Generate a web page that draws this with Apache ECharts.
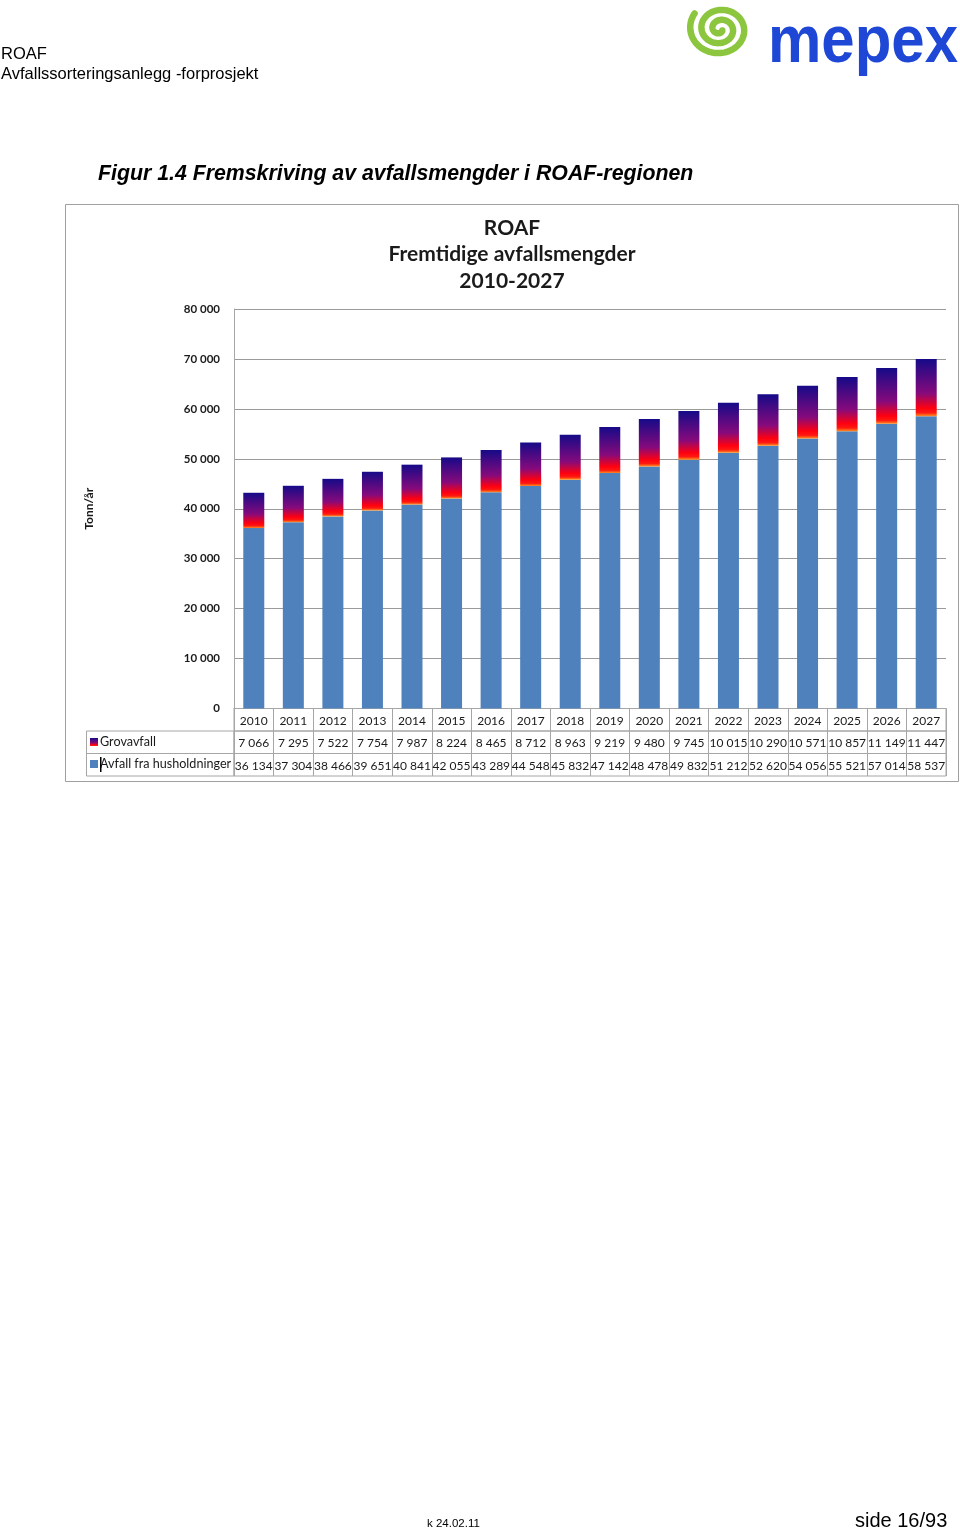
<!DOCTYPE html>
<html>
<head>
<meta charset="utf-8">
<script src="https://cdn.jsdelivr.net/npm/echarts@6/dist/echarts.min.js"></script>
<style>
  html, body { margin: 0; padding: 0; background: #fff; }
  #chart { width: 960px; height: 1530px; }
</style>
</head>
<body>
<div id="chart"></div>
<script>
// data
var years = ["2010", "2011", "2012", "2013", "2014", "2015", "2016", "2017", "2018",
  "2019", "2020", "2021", "2022", "2023", "2024", "2025", "2026", "2027"];
var grovavfall = [7066, 7295, 7522, 7754, 7987, 8224, 8465, 8712, 8963,
  9219, 9480, 9745, 10015, 10290, 10571, 10857, 11149, 11447];
var husholdning = [36134, 37304, 38466, 39651, 40841, 42055, 43289, 44548, 45832,
  47142, 48478, 49832, 51212, 52620, 54056, 55521, 57014, 58537];
var seriesNames = ["Grovavfall", "Avfall fra husholdninger"];

function fmt(n) {
  return String(n).replace(/\B(?=(\d{3})+(?!\d))/g, " ");
}

var calibri = "Lato, 'Open Sans', sans-serif";
var arial = "'Liberation Sans', Arial, sans-serif";
var lineCol = "#a6a6a6";

function grovGradient() {
  return new echarts.graphic.LinearGradient(0, 0, 0, 1, [
    { offset: 0, color: "#160a88" },
    { offset: 0.6, color: "#860a7c" },
    { offset: 0.86, color: "#ff0010" },
    { offset: 0.94, color: "#ff1a10" },
    { offset: 1, color: "#ff9020" },
  ]);
}

// spiral for the logo
function spiralPoints(cx, cy) {
  var pts = [];
  var turns = 2.5;
  for (var i = 0; i <= 300; i++) {
    var t = (i / 300) * turns * 2 * Math.PI;
    var r = 2.5 + 10 * t / (2 * Math.PI);
    pts.push([cx + 1.12 * r * Math.cos(t + 0.6), cy + r * Math.sin(t + 0.6)]);
  }
  return pts;
}

// one table row as its own grid
function tableRow(idx, top, labels) {
  return {
    grid: { left: 234, right: 14, top: top, height: 22.5, show: true, borderColor: lineCol, borderWidth: 1 },
    xAxis: {
      type: "category", gridIndex: idx, data: labels, position: "bottom",
      axisLine: { show: false }, axisTick: { show: false },
      splitLine: { show: true, interval: 0, lineStyle: { color: lineCol } },
      axisLabel: { interval: 0, margin: -16, fontFamily: calibri, fontSize: 12, color: "#1a1a1a" },
    },
    yAxis: { type: "value", gridIndex: idx, show: false },
  };
}
var rows = [
  tableRow(1, 708.5, years),
  tableRow(2, 731, grovavfall.map(fmt)),
  tableRow(3, 753.5, husholdning.map(fmt)),
];

var myChart = echarts.init(document.getElementById("chart"));
myChart.setOption({
  animation: false,
  title: {
    text: "ROAF\nFremtidige avfallsmengder\n2010-2027",
    left: 507, top: 209.5, textAlign: "center",
    textStyle: { fontFamily: calibri, fontWeight: "bold", fontSize: 21, lineHeight: 26.5, color: "#1a1a1a" },
  },
  grid: [{ left: 234, right: 14, top: 309, height: 399.5 }].concat(rows.map(function (r) { return r.grid; })),
  xAxis: [{
    type: "category", data: years, gridIndex: 0,
    axisLine: { show: true, lineStyle: { color: lineCol } },
    axisTick: { show: false }, axisLabel: { show: false },
  }].concat(rows.map(function (r) { return r.xAxis; })),
  yAxis: [{
    type: "value", min: 0, max: 80000, interval: 10000, gridIndex: 0,
    name: "Tonn/år", nameLocation: "middle", nameRotate: 90, nameGap: 139,
    nameTextStyle: { fontFamily: calibri, fontWeight: "bold", fontSize: 12, color: "#1a1a1a" },
    axisLine: { show: true, lineStyle: { color: lineCol } },
    axisTick: { show: false },
    axisLabel: { margin: 14, fontFamily: calibri, fontWeight: "bold", fontSize: 11.5, color: "#1a1a1a", formatter: fmt },
    splitLine: { lineStyle: { color: "#9a9a9a" } },
  }].concat(rows.map(function (r) { return r.yAxis; })),
  series: [
    {
      name: seriesNames[1], type: "bar", stack: "tot", data: husholdning, barWidth: 21,
      itemStyle: { color: "#4f81bd" },
    },
    {
      name: seriesNames[0], type: "bar", stack: "tot", data: grovavfall, barWidth: 21,
      itemStyle: { color: grovGradient() },
    },
  ],
  graphic: [
    // page header
    { type: "text", x: 1, y: 46, style: { text: "ROAF", font: "16.5px " + arial, fill: "#000" } },
    { type: "text", x: 1, y: 66, style: { text: "Avfallssorteringsanlegg -forprosjekt", font: "16.5px " + arial, fill: "#000" } },
    { type: "polyline", shape: { points: spiralPoints(720, 29) }, style: { stroke: "#8cc63f", lineWidth: 6.5, fill: null, lineCap: "round" } },
    { type: "text", x: 768, y: 10, scaleY: 1.12, style: { text: "mepex", font: "bold 60px " + arial, fill: "#1f47d6" } },
    // caption
    { type: "text", x: 98, y: 164, style: { text: "Figur 1.4 Fremskriving av avfallsmengder i ROAF-regionen", font: "italic bold 21.3px " + arial, fill: "#000" } },
    // chart frame
    { type: "rect", shape: { x: 65.5, y: 204.5, width: 893, height: 577 }, style: { fill: null, stroke: "#a0a0a0", lineWidth: 1 } },
    // table legend column
    { type: "rect", shape: { x: 86.5, y: 731, width: 147.5, height: 22.5 }, style: { fill: null, stroke: lineCol, lineWidth: 1 } },
    { type: "rect", shape: { x: 86.5, y: 753.5, width: 147.5, height: 22.5 }, style: { fill: null, stroke: lineCol, lineWidth: 1 } },
    { type: "rect", shape: { x: 90, y: 738, width: 8, height: 8 }, style: { fill: grovGradient() } },
    { type: "rect", shape: { x: 90, y: 760, width: 8, height: 8 }, style: { fill: "#4f81bd" } },
    { type: "text", x: 100, y: 735, style: { text: seriesNames[0], font: "12.6px " + calibri, fill: "#1a1a1a" } },
    { type: "text", x: 100, y: 757, style: { text: seriesNames[1], font: "12.6px " + calibri, fill: "#1a1a1a" } },
    { type: "rect", shape: { x: 100, y: 757, width: 1.5, height: 15 }, style: { fill: "#000" } },
    // footer
    { type: "text", x: 427, y: 1518, style: { text: "k 24.02.11", font: "11.5px " + arial, fill: "#000" } },
    { type: "text", x: 855, y: 1511, style: { text: "side 16/93", font: "20px " + arial, fill: "#000" } },
  ],
});
</script>
</body>
</html>
